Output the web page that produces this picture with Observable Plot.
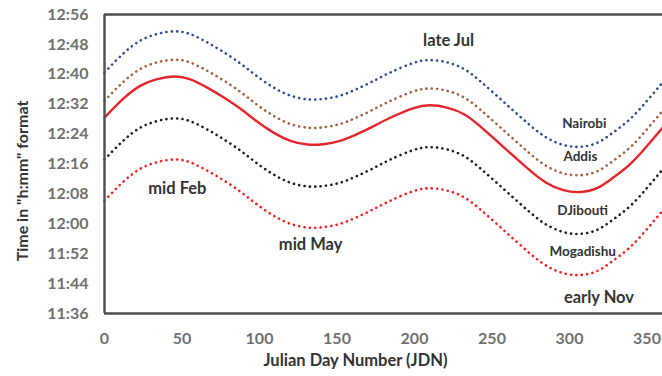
<!DOCTYPE html>
<html>
<head>
<meta charset="utf-8">
<script src="https://cdn.jsdelivr.net/npm/d3@7"></script>
<script src="https://cdn.jsdelivr.net/npm/@observablehq/plot@0.6"></script>
<style>
  html, body { margin: 0; padding: 0; background: #fff; }
  #chart { width: 662px; height: 376px; }
</style>
</head>
<body>
<div id="chart"></div>
<script>
// Julian day numbers at which values were read
const days = [0, 12, 23, 34, 45, 55, 66, 77, 88, 98, 109, 120, 131, 141, 152, 163, 174, 184, 199, 210, 221, 232, 242, 253, 264, 275, 285, 296, 307, 318, 328, 339, 350, 360];

// Times in minutes after midnight
const nairobi = [760.5, 765.5, 769.0, 770.8, 771.5, 770.8, 768.6, 765.9, 762.8, 759.6, 756.5, 754.3, 753.3, 753.4, 754.3, 756.1, 758.3, 760.4, 763.0, 763.8, 763.2, 761.4, 758.3, 754.3, 750.2, 746.2, 743.1, 741.1, 740.6, 741.7, 744.4, 748.0, 752.9, 757.8];
const addis = [752.9, 757.9, 761.4, 763.2, 763.9, 763.2, 761.0, 758.3, 755.2, 752.0, 748.9, 746.7, 745.7, 745.8, 746.7, 748.5, 750.7, 752.8, 755.4, 756.2, 755.6, 753.8, 750.7, 746.7, 742.6, 738.6, 735.5, 733.5, 733.0, 734.1, 736.8, 740.4, 745.3, 750.2];
const solidRed = [748.4, 753.4, 756.9, 758.7, 759.4, 758.7, 756.5, 753.8, 750.7, 747.5, 744.4, 742.2, 741.2, 741.3, 742.2, 744.0, 746.2, 748.3, 750.9, 751.7, 751.1, 749.3, 746.2, 742.2, 738.1, 734.1, 731.0, 729.0, 728.5, 729.6, 732.3, 735.9, 740.8, 745.7];
const djibouti = [737.2, 742.2, 745.7, 747.5, 748.2, 747.5, 745.3, 742.6, 739.5, 736.3, 733.2, 731.0, 730.0, 730.1, 731.0, 732.8, 735.0, 737.1, 739.7, 740.5, 739.9, 738.1, 735.0, 731.0, 726.9, 722.9, 719.8, 717.8, 717.3, 718.4, 721.1, 724.7, 729.6, 734.5];
const mogadishu = [726.2, 731.2, 734.7, 736.5, 737.2, 736.5, 734.3, 731.6, 728.5, 725.3, 722.2, 720.0, 719.0, 719.1, 720.0, 721.8, 724.0, 726.1, 728.7, 729.5, 728.9, 727.1, 724.0, 720.0, 715.9, 711.9, 708.8, 706.8, 706.3, 707.4, 710.1, 713.7, 718.6, 723.5];

// Tick labels
const xTicks = [0, 50, 100, 150, 200, 250, 300, 350];
const yTickLabels = ["11:36", "11:44", "11:52", "12:00", "12:08", "12:16", "12:24", "12:32", "12:40", "12:48", "12:56"];

// Annotations
const noteText = ["late Jul", "mid Feb", "mid May", "early Nov"];
const noteDay = [222, 47, 133, 319];
const noteTime = [769.0, 729.3, 714.4, 700.3];

const cityText = ["Nairobi", "Addis", "DJibouti", "Mogadishu"];
const cityDay = [309.5, 307, 308.5, 308.5];
const cityTime = [746.7, 737.9, 723.6, 712.6];

const toMin = s => { const [h, m] = s.split(":").map(Number); return h * 60 + m; };
const yTicks = yTickLabels.map(toMin);
const fmt = v => `${Math.floor(v / 60)}:${String(Math.round(v % 60)).padStart(2, "0")}`;

const series = [
  {name: "Nairobi", values: nairobi, color: "#2f4f8a", dotted: true},
  {name: "Addis", values: addis, color: "#a0623e", dotted: true},
  {name: "Red", values: solidRed, color: "#e3262b", dotted: false},
  {name: "Djibouti", values: djibouti, color: "#1e1e1e", dotted: true},
  {name: "Mogadishu", values: mogadishu, color: "#ee2222", dotted: true}
];

const lineMarks = series.map(s => {
  const data = days.map((d, i) => ({day: d, t: s.values[i]}));
  return Plot.line(data, {
    x: "day", y: "t", curve: "natural",
    stroke: s.color,
    strokeWidth: s.dotted ? 2.6 : 2.4,
    strokeDasharray: s.dotted ? "0.1 5.3" : null,
    strokeLinecap: "round"
  });
});

const notes = noteText.map((t, i) => ({t, x: noteDay[i], y: noteTime[i]}));
const cities = cityText.map((t, i) => ({t, x: cityDay[i], y: cityTime[i]}));

const font = "Lato, 'Open Sans', sans-serif";

const chart = Plot.plot({
  width: 662,
  height: 376,
  marginLeft: 104,
  marginRight: 0,
  marginTop: 14,
  marginBottom: 63,
  style: {fontFamily: font, background: "#fff"},
  x: {domain: [0, 360]},
  y: {domain: [696, 776]},
  marks: [
    ...lineMarks,
    Plot.ruleX([0], {stroke: "#4a4f4f", strokeWidth: 2.4}),
    Plot.ruleY([696, 776], {stroke: "#4a4f4f", strokeWidth: 2.4}),
    Plot.axisX({ticks: xTicks, tickSize: 0, tickPadding: 19, label: null, fontSize: 16, fontWeight: "bold", fill: "#707070"}),
    Plot.axisY({ticks: yTicks, tickFormat: fmt, tickSize: 0, tickPadding: 16, label: null, fontSize: 16, fontWeight: "bold", fill: "#707070"}),
    Plot.text(notes, {x: "x", y: "y", text: "t", fontSize: 16.5, fontWeight: "bold", fill: "#333"}),
    Plot.text(cities, {x: "x", y: "y", text: "t", fontSize: 13.5, fontWeight: "bold", fill: "#333"}),
    Plot.text(["Julian Day Number (JDN)"], {frameAnchor: "bottom", textAnchor: "middle", lineAnchor: "middle", dx: -28, dy: 47, fontSize: 16.5, fontWeight: "bold", fill: "#333"}),
    Plot.text(["Time in \"h:mm\" format"], {frameAnchor: "left", textAnchor: "middle", lineAnchor: "middle", dx: -82, dy: 17, rotate: -90, fontSize: 16, fontWeight: "bold", fill: "#333"})
  ]
});

document.getElementById("chart").appendChild(chart);
</script>
</body>
</html>
